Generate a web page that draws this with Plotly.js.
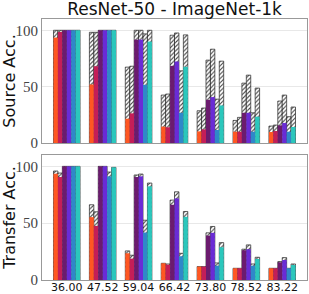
<!DOCTYPE html>
<html><head><meta charset="utf-8">
<script src="https://cdn.plot.ly/plotly-3.0.1.min.js"></script>
<style>body{margin:0;padding:0;background:#fff}#c{width:309px;height:294px}</style>
</head><body><div id="c"></div>
<script>
const categories = ["36.00","47.52","59.04","66.42","73.80","78.52","83.22"];
const seriesColors = ["#FF5722","#C41E58","#6B1B6E","#6A2BD6","#2F88C9","#2BC7BC"];
// Source accuracy (solid) per method
const srcA = [93.5, 51.9, 21.5, 14.5, 10.3, 10.0, 9.7];
const srcB = [98.5, 68.1, 26.3, 13.9, 12.1, 10.0, 10.6];
const srcC = [100, 100, 91.7, 68.4, 38.3, 26.8, 15.6];
const srcD = [100, 100, 91.7, 72.3, 40.7, 26.8, 17.7];
const srcE = [100, 100, 51.6, 26.8, 11.5, 10.0, 10.0];
const srcF = [100, 100, 90.0, 67.6, 33.3, 23.3, 14.2];
// Source accuracy (hatched)
const srcHA = [100, 98.2, 67.3, 42.5, 28.6, 20.0, 15.0];
const srcHB = [100, 98.2, 68.1, 43.4, 31.0, 22.7, 15.9];
const srcHC = [100, 100, 100, 95.6, 73.5, 53.1, 37.2];
const srcHD = [100, 100, 100, 97.6, 83.2, 60.2, 42.5];
const srcHE = [100, 100, 96.8, 64.0, 38.9, 26.8, 23.3];
const srcHF = [100, 100, 100, 95.9, 72.6, 48.7, 31.9];
// Transfer accuracy (solid)
const trA = [93.5, 55.3, 23.5, 14.7, 11.8, 10.3, 10.3];
const trB = [90.6, 47.6, 18.8, 13.5, 11.8, 10.3, 10.3];
const trC = [100, 100, 90.6, 66.2, 39.1, 26.2, 15.6];
const trD = [100, 100, 91.2, 71.8, 41.5, 27.1, 17.6];
const trE = [100, 91.2, 41.8, 20.9, 12.6, 12.6, 10.3];
const trF = [100, 99.1, 82.4, 55.6, 28.8, 18.5, 13.2];
// Transfer accuracy (hatched)
const trHA = [95.9, 66.2, 25.6, 14.7, 11.8, 10.3, 10.3];
const trHB = [94.1, 60.0, 21.8, 14.1, 11.8, 10.3, 10.3];
const trHC = [100, 100, 92.4, 70.3, 41.5, 27.1, 16.2];
const trHD = [100, 100, 93.2, 77.6, 47.1, 30.9, 19.7];
const trHE = [100, 95.0, 52.6, 23.5, 15.0, 14.1, 10.3];
const trHF = [100, 99.1, 85.3, 60.3, 32.9, 20.0, 14.1];

const srcSolid = [srcA, srcB, srcC, srcD, srcE, srcF];
const srcHatch = [srcHA, srcHB, srcHC, srcHD, srcHE, srcHF];
const trSolid = [trA, trB, trC, trD, trE, trF];
const trHatch = [trHA, trHB, trHC, trHD, trHE, trHF];

const traces = [];
function addPanel(solid, hatch, xa, ya) {
  hatch.forEach((v, i) => traces.push({
    type: 'bar', x: categories, y: v, xaxis: xa, yaxis: ya, offsetgroup: String(i),
    marker: {color: '#ffffff', line: {color: '#222', width: 0.7},
      pattern: {shape: '/', fgcolor: '#444', bgcolor: '#ffffff', size: 3, solidity: 0.35}},
    showlegend: false, hoverinfo: 'skip'
  }));
  solid.forEach((v, i) => traces.push({
    type: 'bar', x: categories, y: v, xaxis: xa, yaxis: ya, offsetgroup: String(i),
    marker: {color: seriesColors[i], line: {width: 0}},
    showlegend: false
  }));
}
addPanel(srcSolid, srcHatch, 'x', 'y');
addPanel(trSolid, trHatch, 'x2', 'y2');

const axX = {type: 'category', range: [-0.69, 6.69], showline: true, mirror: true, linecolor: '#999', linewidth: 1,
  showgrid: false, ticks: '', zeroline: false};
const axY = {range: [0, 110], tickvals: [0, 50, 100], showline: true, mirror: true, linecolor: '#999', linewidth: 1,
  gridcolor: '#e8e8e8', zeroline: false, ticks: '',
  tickfont: {family: 'Liberation Serif, serif', size: 15, color: '#444'}};

const layout = {
  width: 309, height: 294,
  margin: {l: 42, r: 2, t: 19, b: 14},
  paper_bgcolor: '#fff', plot_bgcolor: '#fff',
  barmode: 'group', bargap: 0.26, bargroupgap: 0,
  title: {text: 'ResNet-50 - ImageNet-1k', x: 0.565, xanchor: 'center', yref: 'paper', y: 1.036, yanchor: 'middle',
    font: {family: 'DejaVu Sans, sans-serif', size: 17, color: '#111'}},
  xaxis: Object.assign({}, axX, {anchor: 'y', showticklabels: false}),
  yaxis: Object.assign({}, axY, {domain: [0.525, 1], anchor: 'x',
    title: {text: 'Source Acc.', font: {family: 'DejaVu Sans, sans-serif', size: 16, color: '#111'}, standoff: 2}}),
  xaxis2: Object.assign({}, axX, {anchor: 'y2', showticklabels: true, ticklabelstandoff: -3,
    tickfont: {family: 'DejaVu Sans, sans-serif', size: 11, color: '#111'}}),
  yaxis2: Object.assign({}, axY, {domain: [0, 0.479], anchor: 'x2',
    title: {text: 'Transfer Acc.', font: {family: 'DejaVu Sans, sans-serif', size: 16, color: '#111'}, standoff: 2}})
};
Plotly.newPlot('c', traces, layout, {displayModeBar: false, staticPlot: true});
</script></body></html>
